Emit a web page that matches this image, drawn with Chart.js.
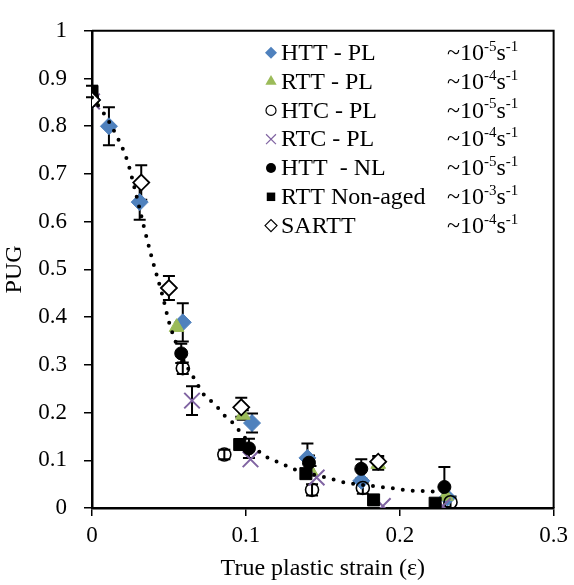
<!DOCTYPE html>
<html lang="en">
<head>
  <meta charset="UTF-8">
  <title>PUG vs true plastic strain</title>
  <script src="https://cdn.jsdelivr.net/npm/chart.js"></script>
  <style>
    body { margin: 0; background: white; }
    #wrap { width: 574px; height: 585px; }
  </style>
</head>
<body>
  <div id="wrap"><canvas id="chart" width="574" height="585"></canvas></div>
  <script>
    // values
    const httPL = [[0, 0.855], [0.011, 0.80], [0.031, 0.641], [0.059, 0.389], [0.104, 0.178], [0.140, 0.105], [0.175, 0.057], [0.231, 0.022]];
    const httPLErr = [null, 0.04, 0.037, 0.04, 0.02, 0.03, null, null];
    const rttPL = [[0, 0.855], [0.055, 0.379], [0.098, 0.195], [0.142, 0.078], [0.186, 0.092], [0.230, 0.025]];
    const rttPLErr = [null, null, 0.01, 0.01, 0.012, null];
    const htcPL = [[0, 0.855], [0.059, 0.293], [0.086, 0.112], [0.143, 0.038], [0.176, 0.042], [0.233, 0.012]];
    const htcPLErr = [null, 0.012, 0.01, 0.012, 0.012, 0.012];
    const rtcPL = [[0, 0.852], [0.065, 0.225], [0.103, 0.102], [0.146, 0.064], [0.189, 0.004], [0.228, 0.004]];
    const rtcPLErr = [null, 0.03, null, null, null, null];
    const httNL = [[0, 0.86], [0.058, 0.324], [0.102, 0.125], [0.141, 0.095], [0.175, 0.082], [0.229, 0.044]];
    const httNLErr = [null, 0.02, 0.02, 0.015, 0.02, 0.042];
    const rttNonAged = [[0, 0.873], [0.096, 0.133], [0.139, 0.072], [0.183, 0.017], [0.223, 0.010]];
    const rttNonAgedErr = [0.012, null, null, null, null];
    const sartt = [[0, 0.855], [0.032, 0.682], [0.050, 0.461], [0.097, 0.211], [0.186, 0.097]];
    const sarttErr = [null, 0.036, 0.025, 0.02, 0.012];

    // dotted trend line
    const trendX = [0, 0.007, 0.016, 0.023, 0.028, 0.034, 0.039, 0.046, 0.05, 0.058, 0.067, 0.073, 0.08, 0.085, 0.091, 0.1, 0.108, 0.115, 0.121, 0.1325, 0.152, 0.165, 0.18, 0.191, 0.206, 0.218, 0.232];
    const trendY = [0.86, 0.83, 0.78, 0.727, 0.666, 0.586, 0.523, 0.443, 0.39, 0.32, 0.268, 0.236, 0.217, 0.197, 0.18, 0.145, 0.12, 0.104, 0.096, 0.08, 0.064, 0.053, 0.047, 0.043, 0.037, 0.035, 0.034];

    const legendNames = ['HTT - PL', 'RTT - PL', 'HTC - PL', 'RTC - PL', 'HTT  - NL', 'RTT Non-aged', 'SARTT'];
    const legendRates = ['-5', '-4', '-5', '-4', '-5', '-3', '-4'];

    const FONT = '"Liberation Serif", "Times New Roman", serif';
    const toXY = arr => arr.map(p => ({ x: p[0], y: p[1] }));

    const series = [
      { label: legendNames[0], data: httPL, err: httPLErr, style: 'rectRot', r: 8.5, bg: '#4F81BD', bc: '#4F81BD', bw: 1, lr: 6, lw: 0 },
      { label: legendNames[1], data: rttPL, err: rttPLErr, style: 'triangle', r: 8.5, bg: '#9BBB59', bc: '#9BBB59', bw: 1, lr: 6.5, lw: 0 },
      { label: legendNames[2], data: htcPL, err: htcPLErr, style: 'circle', r: 6.5, bg: 'rgba(0,0,0,0)', bc: '#000', bw: 1.6, lr: 5, lw: 1.2 },
      { label: legendNames[3], data: rtcPL, err: rtcPLErr, style: 'crossRot', r: 11, bg: '#8064A2', bc: '#8064A2', bw: 2, lr: 7, lw: 1.2 },
      { label: legendNames[4], data: httNL, err: httNLErr, style: 'circle', r: 6.5, bg: '#000', bc: '#000', bw: 1, lr: 5, lw: 0 },
      { label: legendNames[5], data: rttNonAged, err: rttNonAgedErr, style: 'rect', r: 8.5, bg: '#000', bc: '#000', bw: 1, lr: 6, lw: 0 },
      { label: legendNames[6], data: sartt, err: sarttErr, style: 'rectRot', r: 8, bg: '#fff', bc: '#000', bw: 1.8, lr: 6, lw: 1.2 }
    ];

    const datasets = series.map((s, i) => ({
      type: 'scatter',
      label: s.label,
      data: toXY(s.data),
      errors: s.err,
      pointStyle: s.style,
      pointRadius: s.r,
      pointHoverRadius: s.r,
      pointBackgroundColor: s.bg,
      pointBorderColor: s.bc,
      pointBorderWidth: s.bw,
      showLine: false,
      order: 10 - i
    }));

    datasets.push({
      type: 'line',
      label: 'trend',
      data: trendX.map((x, i) => ({ x: x, y: trendY[i] })),
      borderColor: '#000',
      borderWidth: 4,
      borderDash: [0, 10],
      borderCapStyle: 'round',
      pointRadius: 0,
      fill: false,
      cubicInterpolationMode: 'monotone',
      order: 0
    });

    // error bars drawn with the chart's own scales
    const errorBars = {
      id: 'errorBars',
      beforeDatasetsDraw(chart) {
        const ctx = chart.ctx;
        const xs = chart.scales.x, ys = chart.scales.y;
        ctx.save();
        ctx.strokeStyle = '#000';
        ctx.lineWidth = 2;
        chart.data.datasets.forEach(ds => {
          if (!ds.errors) return;
          ds.data.forEach((p, i) => {
            const e = ds.errors[i];
            if (e == null) return;
            const px = xs.getPixelForValue(p.x);
            const top = ys.getPixelForValue(Math.min(p.y + e, 1));
            const bot = ys.getPixelForValue(Math.max(p.y - e, 0));
            ctx.beginPath();
            ctx.moveTo(px, top); ctx.lineTo(px, bot);
            ctx.moveTo(px - 6, top); ctx.lineTo(px + 6, top);
            if (p.y - e > 0) { ctx.moveTo(px - 6, bot); ctx.lineTo(px + 6, bot); }
            ctx.stroke();
          });
        });
        ctx.restore();
      }
    };

    // frame round the plot area and the legend inside it
    const frameAndLegend = {
      id: 'frameAndLegend',
      afterDraw(chart) {
        const ctx = chart.ctx;
        const a = chart.chartArea;
        ctx.save();
        ctx.strokeStyle = '#000';
        ctx.lineWidth = 2;
        ctx.beginPath();
        ctx.moveTo(a.left, a.top); ctx.lineTo(a.right, a.top); ctx.lineTo(a.right, a.bottom);
        ctx.stroke();

        const rowH = 28.8;
        const y0 = a.top + 22;
        series.forEach((s, i) => {
          const y = y0 + i * rowH;
          ctx.fillStyle = s.bg;
          ctx.strokeStyle = s.bc;
          ctx.lineWidth = s.lw;
          Chart.helpers.drawPoint(ctx, { pointStyle: s.style, radius: s.lr, rotation: 0, borderWidth: s.lw }, 271, y);

          ctx.fillStyle = '#000';
          ctx.textBaseline = 'middle';
          ctx.textAlign = 'left';
          ctx.font = '24px ' + FONT;
          ctx.fillText(s.label, 281, y + 1);
          let x = 447;
          ctx.fillText('~10', x, y + 1);
          x += ctx.measureText('~10').width;
          ctx.font = '15px ' + FONT;
          ctx.fillText(legendRates[i], x, y - 6);
          x += ctx.measureText(legendRates[i]).width;
          ctx.font = '24px ' + FONT;
          ctx.fillText('s', x, y + 1);
          x += ctx.measureText('s').width;
          ctx.font = '15px ' + FONT;
          ctx.fillText('-1', x, y - 6);
        });
        ctx.restore();
      }
    };

    const fmt = v => String(+v.toFixed(1));

    new Chart(document.getElementById('chart'), {
      data: { datasets: datasets },
      plugins: [errorBars, frameAndLegend],
      options: {
        responsive: false,
        animation: false,
        layout: { padding: { top: 20, right: 18, left: 0, bottom: 0 } },
        plugins: { legend: { display: false }, tooltip: { enabled: false } },
        scales: {
          x: {
            type: 'linear',
            min: 0, max: 0.3,
            afterFit(scale) { scale.height = 77; },
            ticks: { stepSize: 0.1, color: '#000', padding: 6, font: { family: FONT, size: 23 }, maxRotation: 0, callback: fmt },
            grid: { drawOnChartArea: false, drawTicks: true, tickLength: 8, color: '#000', lineWidth: 1.5 },
            border: { display: true, color: '#000', width: 2.5 },
            title: { display: true, text: 'True plastic strain (ε)', color: '#000', font: { family: FONT, size: 24 }, padding: { top: 0, bottom: 2 } }
          },
          y: {
            type: 'linear',
            min: 0, max: 1,
            afterFit(scale) { scale.width = 92; },
            ticks: { stepSize: 0.1, color: '#000', padding: 17, font: { family: FONT, size: 23 }, callback: fmt },
            grid: { drawOnChartArea: false, drawTicks: true, tickLength: 8, color: '#000', lineWidth: 1.5 },
            border: { display: true, color: '#000', width: 2.5 },
            title: { display: true, text: 'PUG', color: '#000', font: { family: FONT, size: 24 }, padding: { top: 0, bottom: 4 } }
          }
        }
      }
    });
  </script>
</body>
</html>
